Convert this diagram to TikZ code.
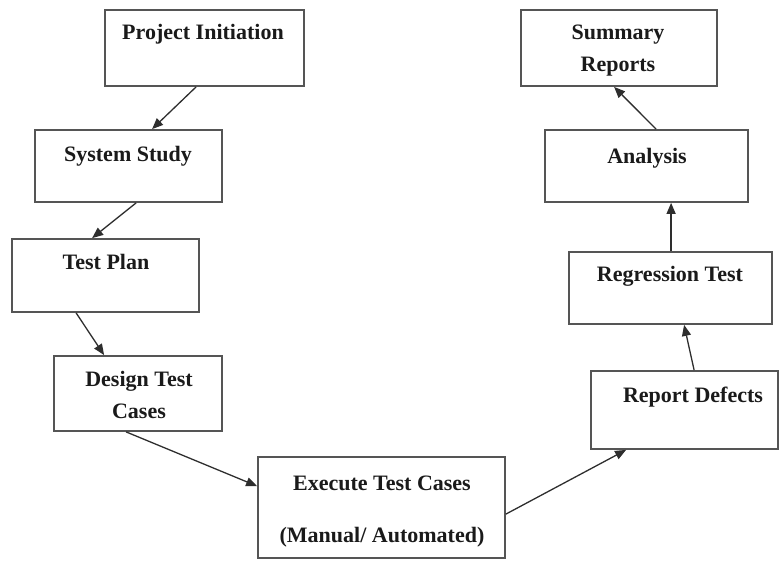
\documentclass[tikz,border=0pt]{standalone}
\usepackage{fontspec}
\setmainfont{Liberation Serif}
\usetikzlibrary{arrows.meta}
\definecolor{boxline}{HTML}{555555}
\definecolor{arrline}{HTML}{2E2E2E}
\definecolor{txt}{HTML}{1A1A1A}
\tikzset{
  box/.style={draw=boxline, line width=1.8pt, fill=white, inner sep=0pt, minimum width=#1},
  lbl/.style={anchor=base, text=txt, font=\bfseries\fontsize{22}{26}\selectfont, inner sep=0pt},
  arr/.style={draw=arrline, line width=1.3pt, -{Triangle[length=11pt,width=9pt]}}
}
\begin{document}
\begin{tikzpicture}[x=1pt,y=-1pt]
\useasboundingbox (0,0) rectangle (780,561);
% boxes
\node[box=199pt, minimum height=76pt] (pi) at (204.5,48) {};
\node[box=187pt, minimum height=72pt] (ss) at (128.5,166) {};
\node[box=187pt, minimum height=73pt] (tp) at (105.5,275.5) {};
\node[box=168pt, minimum height=75pt] (dtc) at (138,393.5) {};
\node[box=247pt, minimum height=101pt] (etc) at (381.5,507.5) {};
\node[box=187pt, minimum height=78pt] (rd) at (684.5,410) {};
\node[box=203pt, minimum height=72pt] (rt) at (670.5,288) {};
\node[box=203pt, minimum height=72pt] (an) at (646.5,166) {};
\node[box=196pt, minimum height=76pt] (sr) at (619,48) {};
% labels
\node[lbl] (pil) at (203,40) {Project Initiation};
\node[lbl] (ssl) at (128,162) {System Study};
\node[lbl] (tpl) at (106,270) {Test Plan};
\node[lbl] (dtcl1) at (139,387) {Design Test};
\node[lbl] (dtcl2) at (139,419) {Cases};
\node[lbl] (etcl1) at (382,490) {Execute Test Cases};
\node[lbl] (etcl2) at (382,542) {(Manual/ Automated)};
\node[lbl] (rdl) at (693,403) {Report Defects};
\node[lbl] (rtl) at (670,282) {Regression Test};
\node[lbl] (anl) at (647,164) {Analysis};
\node[lbl] (srl1) at (618,40) {Summary};
\node[lbl] (srl2) at (618,72) {Reports};
% arrows
\draw[arr] ([xshift=92pt]pi.south west) -- ([xshift=118pt]ss.north west);
\draw[arr] ([xshift=102pt]ss.south west) -- ([xshift=81pt]tp.north west);
\draw[arr] ([xshift=65pt]tp.south west) -- ([xshift=51pt]dtc.north west);
\draw[arr] ([xshift=73pt]dtc.south west) -- ([yshift=-30pt]etc.north west);
\draw[arr] ([yshift=-58pt]etc.north east) -- ([xshift=36pt]rd.south west);
\draw[arr] ([xshift=104pt]rd.north west) -- ([xshift=116pt]rt.south west);
\draw[arr] ([xshift=103pt]rt.north west) -- ([xshift=127pt]an.south west);
\draw[arr] ([xshift=112pt]an.north west) -- ([xshift=94pt]sr.south west);
\end{tikzpicture}
\end{document}
